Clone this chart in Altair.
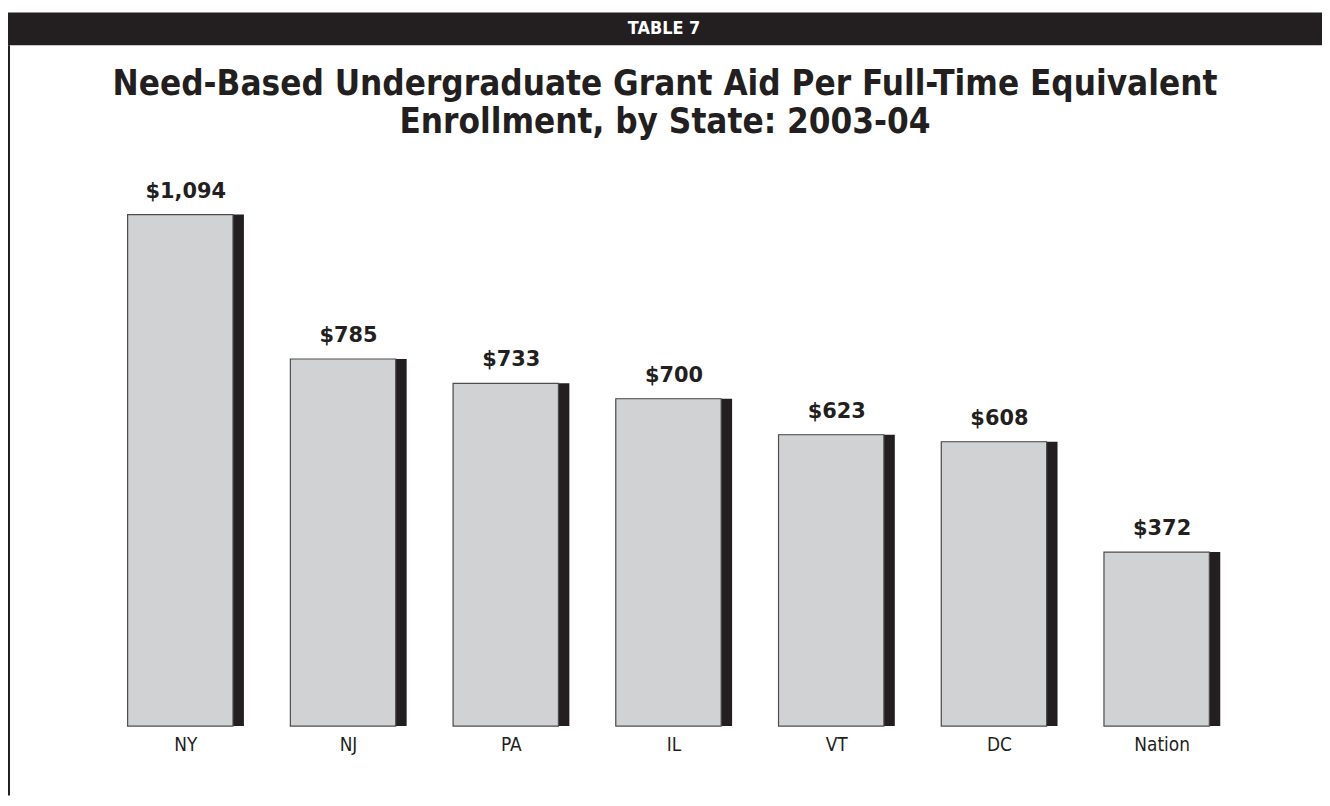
import altair as alt
import pandas as pd

states = ["NY", "NJ", "PA", "IL", "VT", "DC", "Nation"]
values = [1094, 785, 733, 700, 623, 608, 372]
header = ["TABLE 7"]
title_lines = ["Need-Based Undergraduate Grant Aid Per Full-Time Equivalent",
               "Enrollment, by State: 2003-04"]

df = pd.DataFrame({"state": states, "value": values})
df["label"] = ["$" + format(v, ",") for v in values]

BLACK = "#231f20"
GRAY = "#d1d2d4"
NARROW = "Liberation Sans Narrow, DejaVu Sans Condensed, sans-serif"

W, H = 1146, 588
PL, PT = 97, 132
CW, CH = 1322, 790

x = alt.X("state:N", sort=states,
          scale=alt.Scale(paddingInner=0, paddingOuter=0),
          axis=alt.Axis(title=None, labelAngle=0, domain=False, ticks=False,
                        labelPadding=10, labelFont=NARROW, labelFontSize=19,
                        labelColor=BLACK))
y = alt.Y("value:Q", scale=alt.Scale(domain=[0, 1250]), axis=None)

base = alt.Chart(df)
shadow = base.mark_bar(width=117, color=BLACK).encode(x=x, y=y)
bars = base.mark_bar(width=106, xOffset=-5.5, fill=GRAY, stroke="#4d4d4f",
                     strokeWidth=1.2).encode(x=x, y=y)
labels = base.mark_text(dy=-17, baseline="alphabetic", align="center",
                        font="DejaVu Sans", fontWeight="bold", fontSize=21,
                        color=BLACK).encode(x=x, y=y, text="label:N")

hdr = pd.DataFrame({"t": header})
band = alt.Chart(hdr).mark_rect(color=BLACK).encode(
    x=alt.value(-PL + 0), x2=alt.value(CW - PL),
    y=alt.value(10 - 8 - PT), y2=alt.value(43 - 8 - PT))
hdr_text = alt.Chart(hdr).mark_text(color="white", font=NARROW, fontWeight="bold",
                                    fontSize=18, align="center", baseline="middle").encode(
    x=alt.value(668 - 8 - PL), y=alt.value(27 - 8 - PT), text="t:N")
border = alt.Chart(hdr).mark_rule(color=BLACK, strokeWidth=2).encode(
    x=alt.value(9 - 8 - PL), y=alt.value(43 - 8 - PT), y2=alt.value(CH - PT))

tdf = pd.DataFrame({"t": [title_lines]})
title = alt.Chart(tdf).mark_text(color=BLACK, font=NARROW, fontWeight="bold",
                                 fontSize=35, align="center", baseline="alphabetic",
                                 lineHeight=38).encode(
    x=alt.value(669 - 8 - PL), y=alt.value(93 - 8 - PT), text="t")

chart = alt.layer(band, hdr_text, border, title, shadow, bars, labels).properties(
    width=W, height=H,
    autosize=alt.AutoSizeParams(type="none"),
    padding={"left": PL, "top": PT, "right": CW - PL - W, "bottom": CH - PT - H},
    background="white",
).configure_view(stroke=None)

chart.save("out.html", embed_options={"renderer": "svg", "actions": False})
